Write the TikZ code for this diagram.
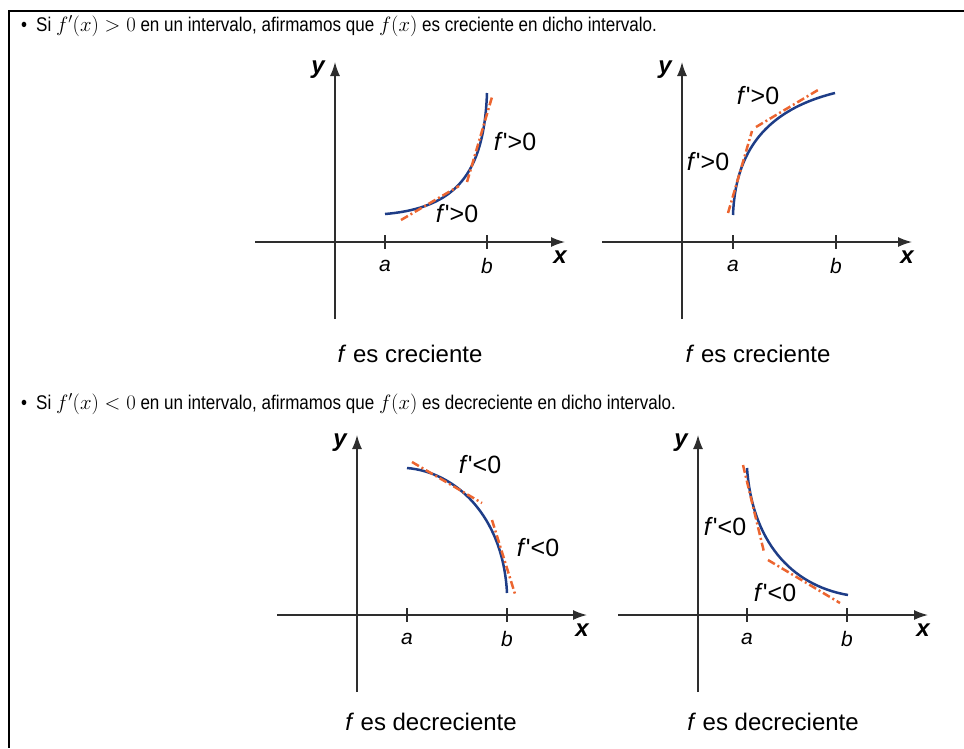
\documentclass[tikz,border=0pt]{standalone}
\usepackage[no-math]{fontspec}
\setmainfont{Liberation Sans}
\newfontfamily\narrowfont[FakeStretch=0.86]{Liberation Sans}
\usetikzlibrary{arrows.meta}
\definecolor{curveblue}{HTML}{1E3D87}
\definecolor{tanorange}{HTML}{EC6530}
\definecolor{axisgray}{HTML}{2E2E2E}
\newcommand{\fp}{\textit{f}\textquotesingle}
\tikzset{
  axisline/.style={axisgray, line width=1.5pt, -{Latex[length=14pt,width=10pt]}},
  tick/.style={axisgray, line width=1.5pt},
  fcurve/.style={curveblue, line width=2.5pt},
  tangent/.style={tanorange, line width=2.5pt, dash pattern=on 8pt off 3pt on 2pt off 3pt},
  deriv/.style={font=\fontsize{25}{30}\selectfont, inner sep=0pt},
  ablbl/.style={font=\fontsize{21}{24}\selectfont\itshape, inner sep=0pt},
  xylbl/.style={font=\fontsize{24}{28}\selectfont\bfseries\itshape, inner sep=0pt},
  caption/.style={font=\fontsize{24}{28}\selectfont, inner sep=0pt},
  header/.style={font=\fontsize{19.8}{23}\selectfont\narrowfont, anchor=west, inner sep=0pt}
}
\begin{document}
\begin{tikzpicture}[x=1pt,y=-1pt]
  \useasboundingbox (0,0) rectangle (964,748);
  % frame
  \draw[line width=2pt] (8,11) -- (964,11);
  \draw[line width=2pt] (9,11) -- (9,748);
  % statements
  \node[header] (up) at (21,26) {\textbullet\hspace{9pt}Si $f^{\prime}(x) > 0$ en un intervalo, afirmamos que $f(x)$ es creciente en dicho intervalo.};
  \node[header] (down) at (21,404) {\textbullet\hspace{9pt}Si $f^{\prime}(x) < 0$ en un intervalo, afirmamos que $f(x)$ es decreciente en dicho intervalo.};
  % axes
  \foreach \ox/\oy/\ta/\tb/\n in {335/242/50/152/1,682/242/51/154/2,357/615/50/150/3,698/615/49/149/4}{
    \begin{scope}[shift={(\ox,\oy)}]
      \draw[axisline] (-80,0) -- (230,0);
      \draw[axisline] (0,77) -- (0,-180);
      \draw[tick] (\ta,-7) -- (\ta,7);
      \draw[tick] (\tb,-7) -- (\tb,7);
      \node[ablbl] (a\n) at (\ta,24) {a};
      \node[ablbl] (b\n) at (\tb,24) {b};
      \node[xylbl] (x\n) at (225,15) {x};
      \node[xylbl] (y\n) at (-17,-172) {y};
    \end{scope}
  }
  % increasing, convex
  \draw[fcurve] (385,214) .. controls (455,208) and (484,175) .. (487,93);
  \draw[tangent] (401,220) -- (459,186);
  \draw[tangent] (467,182) -- (492,97);
  \node[deriv] (p1) at (457,214) {\fp>0};
  \node[deriv] (q1) at (515,142) {\fp>0};
  \node[caption] (c1) at (410,354) {\textit{f} es creciente};
  % increasing, concave
  \draw[fcurve] (733,215) .. controls (735,160) and (758,112) .. (835,93);
  \draw[tangent] (728,213) -- (752,131);
  \draw[tangent] (756,127) -- (818,90);
  \node[deriv] (p2) at (708,162) {\fp>0};
  \node[deriv] (q2) at (758,96) {\fp>0};
  \node[caption] (c2) at (758,354) {\textit{f} es creciente};
  % decreasing, concave
  \draw[fcurve] (407,468) .. controls (455,472) and (503,515) .. (507,593);
  \draw[tangent] (412,462) -- (482,503);
  \draw[tangent] (492,520) -- (515,594);
  \node[deriv] (p3) at (480,465) {\fp<0};
  \node[deriv] (q3) at (538,548) {\fp<0};
  \node[caption] (c3) at (431,722) {\textit{f} es decreciente};
  % decreasing, convex
  \draw[fcurve] (747,468) .. controls (752,540) and (790,585) .. (848,595);
  \draw[tangent] (743,465) -- (764,552);
  \draw[tangent] (768,560) -- (840,603);
  \node[deriv] (p4) at (725,527) {\fp<0};
  \node[deriv] (q4) at (775,593) {\fp<0};
  \node[caption] (c4) at (773,722) {\textit{f} es decreciente};
\end{tikzpicture}
\end{document}
